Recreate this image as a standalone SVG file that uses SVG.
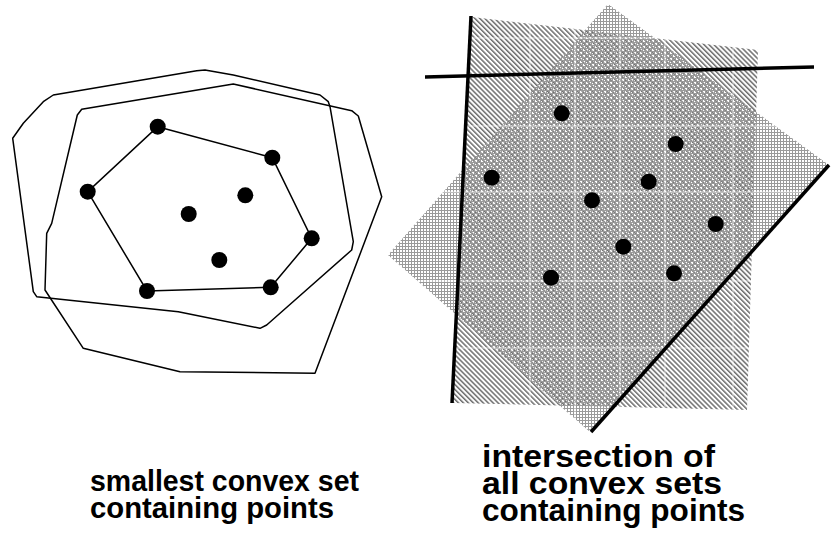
<svg xmlns="http://www.w3.org/2000/svg" width="835" height="544" viewBox="0 0 835 544">
<style>
.blob{fill:none;stroke:#000;stroke-width:1.5;stroke-linejoin:round}
.hull{fill:none;stroke:#000;stroke-width:1.5}
.pt{fill:#000}
.thick{stroke:#000;stroke-width:3.5;fill:none}
.grid{stroke:#fff;stroke-width:1;opacity:0.7}
.lbl{font-family:"Liberation Sans",Arial,sans-serif;font-weight:bold;fill:#000}
</style>
<defs>
<pattern id="hatch" width="3.5" height="3.5" patternUnits="userSpaceOnUse" patternTransform="rotate(-45)">
<rect width="1.5" height="3.5" fill="#6e6e6e"/>
</pattern>
<pattern id="cross" width="3" height="3" patternUnits="userSpaceOnUse">
<rect width="3" height="1" fill="#9a9a9a"/>
<rect width="1" height="3" fill="#9a9a9a"/>
</pattern>
<clipPath id="shade">
<polygon points="472,17 758,50 747,410 453,403"/>
<polygon points="608,4 829,165 590,432 388,255"/>
</clipPath>
<circle id="dot" r="8"/>
</defs>
<rect width="835" height="544" fill="#fff"/>

<g id="left">
<polygon class="blob" points="12.7,138.3 23.3,123.3 43.3,101.7 53.3,95 196.7,70.7 205,70 233.3,75 320,95 328.3,101.7 330,106.7 353.3,241.7 351.7,250 266.7,325 260,328.3 178.3,311.7 36.7,296.7 33.3,291.7"/>
<polygon class="blob" points="81.7,109.3 233.3,84 351.7,110.7 358.3,116 381.7,196.7 315,373.3 180,371.7 83.3,348.3 45,290 46.7,233.3 51.7,223.3 77.3,115"/>
<polygon class="hull" points="157.7,126.7 272.3,157.7 311.7,238.3 270.7,287.3 147,291 87.7,191.7"/>
<g class="pt">
<use href="#dot" x="157.7" y="126.7"/>
<use href="#dot" x="272.3" y="157.7"/>
<use href="#dot" x="87.7" y="191.7"/>
<use href="#dot" x="245.3" y="195.3"/>
<use href="#dot" x="188.7" y="214"/>
<use href="#dot" x="311.7" y="238.3"/>
<use href="#dot" x="219.3" y="260"/>
<use href="#dot" x="147" y="291"/>
<use href="#dot" x="270.7" y="287.3"/>
</g>
</g>

<g id="right">
<polygon points="472,17 758,50 747,410 453,403" fill="url(#hatch)"/>
<polygon points="608,4 829,165 590,432 388,255" fill="url(#cross)"/>
<g clip-path="url(#shade)" class="grid">
<line x1="530" y1="0" x2="530" y2="440"/>
<line x1="575" y1="0" x2="575" y2="440"/>
<line x1="620" y1="0" x2="620" y2="440"/>
<line x1="665" y1="0" x2="665" y2="440"/>
<line x1="733" y1="0" x2="733" y2="440"/>
<line x1="380" y1="38" x2="835" y2="38"/>
<line x1="380" y1="126" x2="835" y2="126"/>
<line x1="380" y1="192" x2="835" y2="192"/>
<line x1="380" y1="281" x2="835" y2="281"/>
<line x1="380" y1="348" x2="835" y2="348"/>
</g>
<line class="thick" x1="471" y1="16" x2="452" y2="403"/>
<line class="thick" x1="425" y1="77" x2="814" y2="67"/>
<line class="thick" x1="829" y1="165" x2="591" y2="432"/>
<g class="pt">
<use href="#dot" x="561.7" y="113.3"/>
<use href="#dot" x="675.7" y="144"/>
<use href="#dot" x="491.7" y="177.7"/>
<use href="#dot" x="648.7" y="181.7"/>
<use href="#dot" x="592" y="200.3"/>
<use href="#dot" x="715.7" y="224"/>
<use href="#dot" x="623.3" y="246.7"/>
<use href="#dot" x="551" y="277.7"/>
<use href="#dot" x="674" y="273.3"/>
</g>
</g>

<g id="label-left" class="lbl" font-size="30">
<text x="90" y="491" textLength="269" lengthAdjust="spacingAndGlyphs">smallest convex set</text>
<text x="90" y="518" textLength="244" lengthAdjust="spacingAndGlyphs">containing points</text>
</g>
<g id="label-right" class="lbl" font-size="32">
<text x="482" y="467" textLength="233" lengthAdjust="spacingAndGlyphs">intersection of</text>
<text x="482" y="494" textLength="240" lengthAdjust="spacingAndGlyphs">all convex sets</text>
<text x="482" y="521" textLength="263" lengthAdjust="spacingAndGlyphs">containing points</text>
</g>
</svg>
